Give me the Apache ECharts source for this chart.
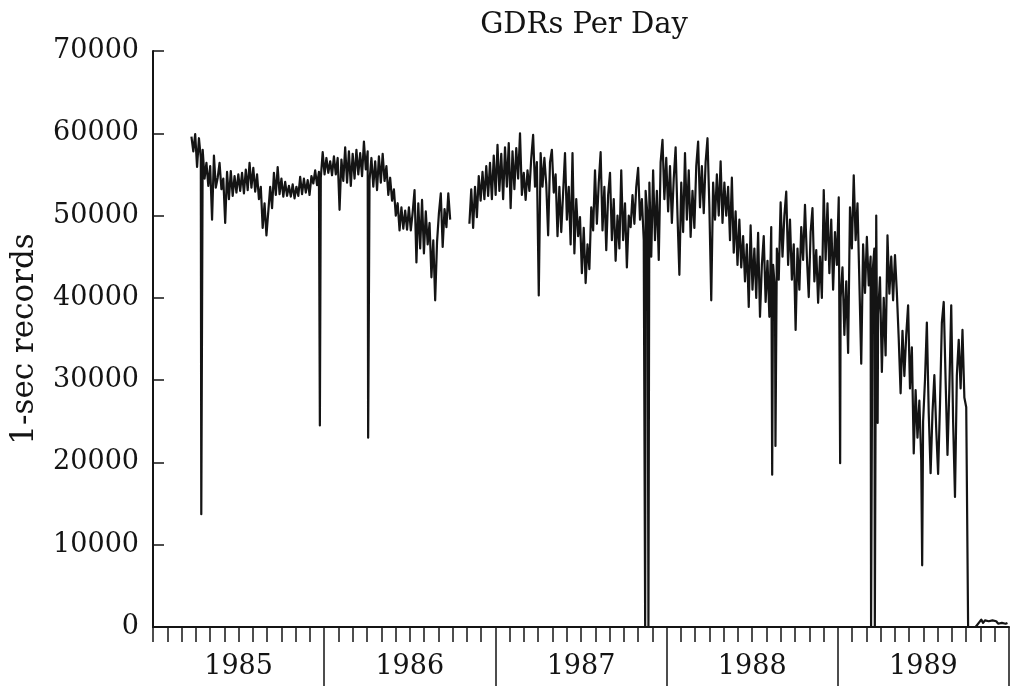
<!DOCTYPE html>
<html>
<head>
<meta charset="utf-8">
<script src="https://cdn.jsdelivr.net/npm/echarts@6/dist/echarts.min.js"></script>
<style>
  html, body { margin: 0; padding: 0; background: #fff; }
  #chart { width: 1014px; height: 686px; }
</style>
</head>
<body>
<div id="chart"></div>
<script>
// Year bands shown under the time axis
const yearLabels = ['1985', '1986', '1987', '1988', '1989'];

// Days are counted from 1 Jan 1985; each run is sampled every 4 days.
const stepDays = 4;
const startDayA = 82;     // first run: spring 1985 to autumn 1986
const startDayB = 675;    // second run: Nov 1986 to autumn 1989
const startDayTail = 1739; // last weeks of 1989
const gapDay = 655;       // no records between the two runs

// Records per day, in thousands
const recordsA = [
  59.6, 57.8, 59.9, 55.9, 59.4, 57.0, 58.0, 54.5, 56.4, 53.6,
  56.0, 49.5, 57.3, 53.4, 54.6, 56.4, 53.2, 54.5, 49.1, 55.3,
  52.0, 55.4, 52.4, 54.8, 52.8, 55.0, 53.0, 55.2, 52.7, 55.6,
  53.1, 56.4, 53.4, 55.8, 52.9, 55.0, 52.0, 53.5, 48.5, 51.5,
  47.6, 50.5, 53.5, 50.9, 55.2, 52.5, 55.9, 52.6, 54.5, 52.3,
  54.1, 52.4, 53.6, 52.3, 53.8, 52.1, 53.5, 52.4, 54.7, 52.6,
  54.5, 52.8, 54.3, 52.5, 54.8, 53.9, 55.5, 53.7, 55.3, 54.6,
  57.7, 55.0, 57.0, 55.2, 56.6, 54.9, 57.2, 55.0, 57.0, 50.7,
  56.8, 54.2, 58.3, 54.0, 57.8, 53.6, 57.5, 54.5, 58.0, 55.0,
  57.6, 54.8, 59.0, 55.6, 57.8, 54.3, 57.0, 53.5, 56.6, 53.1,
  57.2, 54.0, 57.5, 54.2, 56.0, 52.5, 54.6, 51.8, 53.2, 50.0,
  51.5, 48.2, 51.0, 48.4, 50.6, 48.3, 51.0, 48.2, 50.4, 53.1,
  44.3, 51.5, 46.0, 51.9, 45.4, 50.5, 46.5, 49.1, 42.5, 47.0,
  39.7, 46.8, 50.3, 52.7, 46.2, 50.8, 48.6, 52.7, 49.5
];

const recordsB = [
  49.0, 53.2, 48.5, 53.5, 49.8, 54.8, 51.8, 55.3, 52.0, 56.0,
  52.4, 56.4, 52.0, 57.3, 52.5, 58.6, 53.0, 57.5, 52.0, 58.3,
  53.5, 58.8, 50.9, 57.8, 53.2, 58.2, 54.5, 60.0, 52.5, 55.2,
  51.9, 55.5, 53.0, 57.0, 59.8, 53.5, 56.5, 40.3, 57.6, 53.5,
  57.0, 53.8, 47.6, 56.5, 58.0, 52.8, 55.0, 47.5, 53.5, 48.0,
  52.8, 57.6, 49.5, 53.5, 46.5, 57.6, 45.4, 52.0, 47.5, 49.8,
  43.0, 48.5, 41.8, 46.5, 43.5, 51.0, 48.2, 55.5, 49.0, 54.0,
  57.7, 48.2, 53.5, 45.8, 52.5, 55.2, 47.0, 52.0, 44.5, 50.0,
  46.0, 55.5, 47.0, 51.5, 43.7, 50.0, 48.6, 52.5, 49.0, 53.5,
  55.8, 49.5, 52.0, 47.0, 53.0, 50.0, 54.0, 45.0, 55.5, 47.0,
  53.0, 44.6, 56.5, 59.2, 52.0, 57.0, 50.5, 56.0, 49.1, 54.5,
  58.3, 50.0, 42.8, 54.0, 48.0, 57.6, 49.5, 55.5, 47.4, 53.0,
  48.5, 56.0, 59.0, 51.0, 56.0, 50.3, 56.5, 59.4, 51.0, 39.7,
  54.0, 49.5, 55.0, 50.0, 56.6, 49.1, 54.0, 50.0, 53.5, 47.0,
  54.6, 45.5, 50.5, 44.0, 49.5, 43.7, 47.5, 42.0, 46.5, 38.9,
  48.8, 41.0, 46.0, 40.0, 47.9, 37.7, 44.0, 47.5, 39.5, 44.5,
  37.7, 48.6, 44.0, 41.0, 46.0, 42.2, 51.6, 45.0, 50.0, 52.9,
  44.0, 49.5, 42.2, 46.5, 36.1, 46.0, 41.0, 48.6, 44.6, 51.3,
  45.0, 40.1, 48.0, 50.9, 42.0, 45.8, 39.4, 45.0, 40.0, 53.1,
  44.6, 51.5, 43.0, 49.5, 41.0, 48.0, 44.0, 52.2, 40.0, 43.7,
  35.5, 42.0, 33.3, 51.0, 46.0, 54.9, 47.0, 51.5, 42.0, 32.0,
  46.5, 40.6, 47.4, 41.5, 45.0, 43.0, 46.0, 50.0, 38.0, 42.5,
  31.0, 40.0, 33.0, 47.6, 40.5, 45.0, 39.7, 45.2, 40.6, 35.0,
  28.4, 36.0, 30.5, 35.5, 39.1, 29.0, 34.0, 21.1, 28.8, 23.0,
  27.5, 20.3, 25.0, 30.0, 37.0, 26.0, 18.7, 26.0, 30.6, 24.0,
  18.6, 27.0, 37.0, 39.5, 30.0, 20.9, 29.0, 39.1, 25.0, 15.8,
  30.6, 34.9, 29.0, 36.1, 27.9, 26.7
];

const recordsTail = [
  0, 0, 0, 0, 0, 0, 0.6, 0.9, 0.5, 0.8, 0.6,
  0.7, 0.5, 0.8, 0.6, 0.7, 0.4, 0.6, 0.5, 0.6, 0.4, 0.5
];

// Single-day outages (day number, thousands of records)
const spikeDays   = [103, 356, 459, 1050, 1057, 1321, 1328, 1466, 1532, 1540, 1546, 1641];
const spikeValues = [13.7, 24.5, 23.0, 0, 0, 18.5, 22.0, 19.9, 0, 0, 24.8, 7.5];

function yearOf(day) { return 1985 + day / 365.25; }

const points = [];
function addRun(startDay, values) {
  values.forEach(function (v, i) {
    points.push([yearOf(startDay + i * stepDays), v * 1000]);
  });
}
addRun(startDayA, recordsA);
addRun(startDayB, recordsB);
addRun(startDayTail, recordsTail);
spikeDays.forEach(function (d, i) { points.push([yearOf(d), spikeValues[i] * 1000]); });
points.push([yearOf(gapDay), '-']);
points.sort(function (a, b) { return a[0] - b[0]; });

const FONT = 'DejaVu Serif';
const INK = '#141414';

const chart = echarts.init(document.getElementById('chart'), null, { renderer: 'canvas' });
chart.setOption({
  animation: false,
  backgroundColor: '#ffffff',
  title: {
    text: 'GDRs Per Day',
    left: 584,
    top: 11,
    textAlign: 'center',
    padding: 0,
    textStyle: { fontFamily: FONT, fontSize: 29, fontWeight: 'normal', color: INK }
  },
  grid: { left: 153, right: 5, top: 51, bottom: 59, containLabel: false },
  xAxis: [
    {
      type: 'value', position: 'bottom', min: 1985, max: 1990, interval: 1,
      axisLine: { show: true, lineStyle: { color: INK, width: 2 } },
      axisTick: { show: true, length: 15, lineStyle: { color: INK, width: 1.5 } },
      minorTick: { show: true, splitNumber: 12, length: 15, lineStyle: { color: INK, width: 1.5 } },
      axisLabel: { show: false },
      splitLine: { show: false },
      minorSplitLine: { show: false }
    },
    {
      type: 'value', position: 'bottom', min: 1985, max: 1990, interval: 1,
      axisLine: { show: false },
      axisTick: { show: true, customValues: [1986, 1987, 1988, 1989, 1990], length: 62,
                  lineStyle: { color: INK, width: 1.5 } },
      axisLabel: { show: false },
      splitLine: { show: false }
    },
    {
      type: 'category', position: 'bottom', data: yearLabels, boundaryGap: true,
      axisLine: { show: false },
      axisTick: { show: false },
      axisLabel: { margin: 26, fontFamily: FONT, fontSize: 27, color: INK },
      splitLine: { show: false }
    }
  ],
  yAxis: {
    type: 'value', min: 0, max: 70000, interval: 10000,
    name: '1-sec records',
    nameLocation: 'middle',
    nameGap: 113,
    nameRotate: 90,
    nameTextStyle: { fontFamily: FONT, fontSize: 31, color: INK },
    axisLine: { show: true, lineStyle: { color: INK, width: 2 } },
    axisTick: { show: true, inside: true, length: 11, lineStyle: { color: INK, width: 1.5 } },
    axisLabel: {
      margin: 14, fontFamily: FONT, fontSize: 27, color: INK,
      formatter: function (v) { return String(v); }
    },
    splitLine: { show: false }
  },
  series: [{
    type: 'line',
    xAxisIndex: 0,
    data: points,
    symbol: 'none',
    showSymbol: false,
    connectNulls: false,
    silent: true,
    lineStyle: { color: INK, width: 2.2, join: 'round' }
  }]
});
</script>
</body>
</html>
